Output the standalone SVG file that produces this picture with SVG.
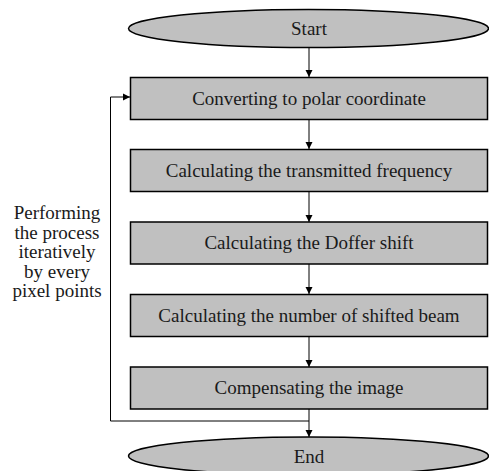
<svg xmlns="http://www.w3.org/2000/svg" width="489" height="471" viewBox="0 0 489 471">
<defs>
<marker id="ah" markerWidth="8" markerHeight="8" refX="7" refY="4" orient="auto" markerUnits="userSpaceOnUse">
<path d="M0,0.5 L7,4 L0,7.5 Z" fill="#000"/>
</marker>
</defs>
<style>
.n{fill:#c0c0c0;stroke:#000;stroke-width:1.5}
.t{font-family:"Liberation Serif","Times New Roman",serif;font-size:19px;fill:#1a1a1a;text-anchor:middle}
.c{fill:none;stroke:#000;stroke-width:1}
</style>
<rect width="489" height="471" fill="#fff"/>
<g id="connectors">
<line class="c" x1="309" y1="48" x2="309" y2="77" marker-end="url(#ah)"/>
<line class="c" x1="309" y1="120" x2="309" y2="149" marker-end="url(#ah)"/>
<line class="c" x1="309" y1="192" x2="309" y2="222" marker-end="url(#ah)"/>
<line class="c" x1="309" y1="264" x2="309" y2="294" marker-end="url(#ah)"/>
<line class="c" x1="309" y1="337" x2="309" y2="367" marker-end="url(#ah)"/>
<line class="c" x1="309" y1="409" x2="309" y2="437" marker-end="url(#ah)"/>
<polyline class="c" points="309,421 110.5,421 110.5,97 130,97" marker-end="url(#ah)"/>
</g>
<g id="start">
<ellipse class="n" cx="308.5" cy="28.5" rx="180" ry="19"/>
<text class="t" x="309" y="35">Start</text>
</g>
<g id="polar">
<rect class="n" x="130.5" y="77.5" width="357" height="42"/>
<text class="t" x="309" y="104.5">Converting to polar coordinate</text>
</g>
<g id="freq">
<rect class="n" x="130.5" y="149.5" width="357" height="42"/>
<text class="t" x="309" y="176.5">Calculating the transmitted frequency</text>
</g>
<g id="doffer">
<rect class="n" x="130.5" y="222" width="357" height="42"/>
<text class="t" x="309" y="249">Calculating the Doffer shift</text>
</g>
<g id="beam">
<rect class="n" x="130.5" y="294.5" width="357" height="42"/>
<text class="t" x="309" y="321.5">Calculating the number of shifted beam</text>
</g>
<g id="comp">
<rect class="n" x="130.5" y="367" width="357" height="42"/>
<text class="t" x="309" y="394">Compensating the image</text>
</g>
<g id="end">
<ellipse class="n" cx="308.5" cy="456" rx="180" ry="19"/>
<text class="t" x="309" y="462.5">End</text>
</g>
<g id="label">
<text class="t" x="57" y="219">Performing</text>
<text class="t" x="57" y="238.5">the process</text>
<text class="t" x="57" y="258">iteratively</text>
<text class="t" x="57" y="277.5">by every</text>
<text class="t" x="57" y="297">pixel points</text>
</g>
</svg>
